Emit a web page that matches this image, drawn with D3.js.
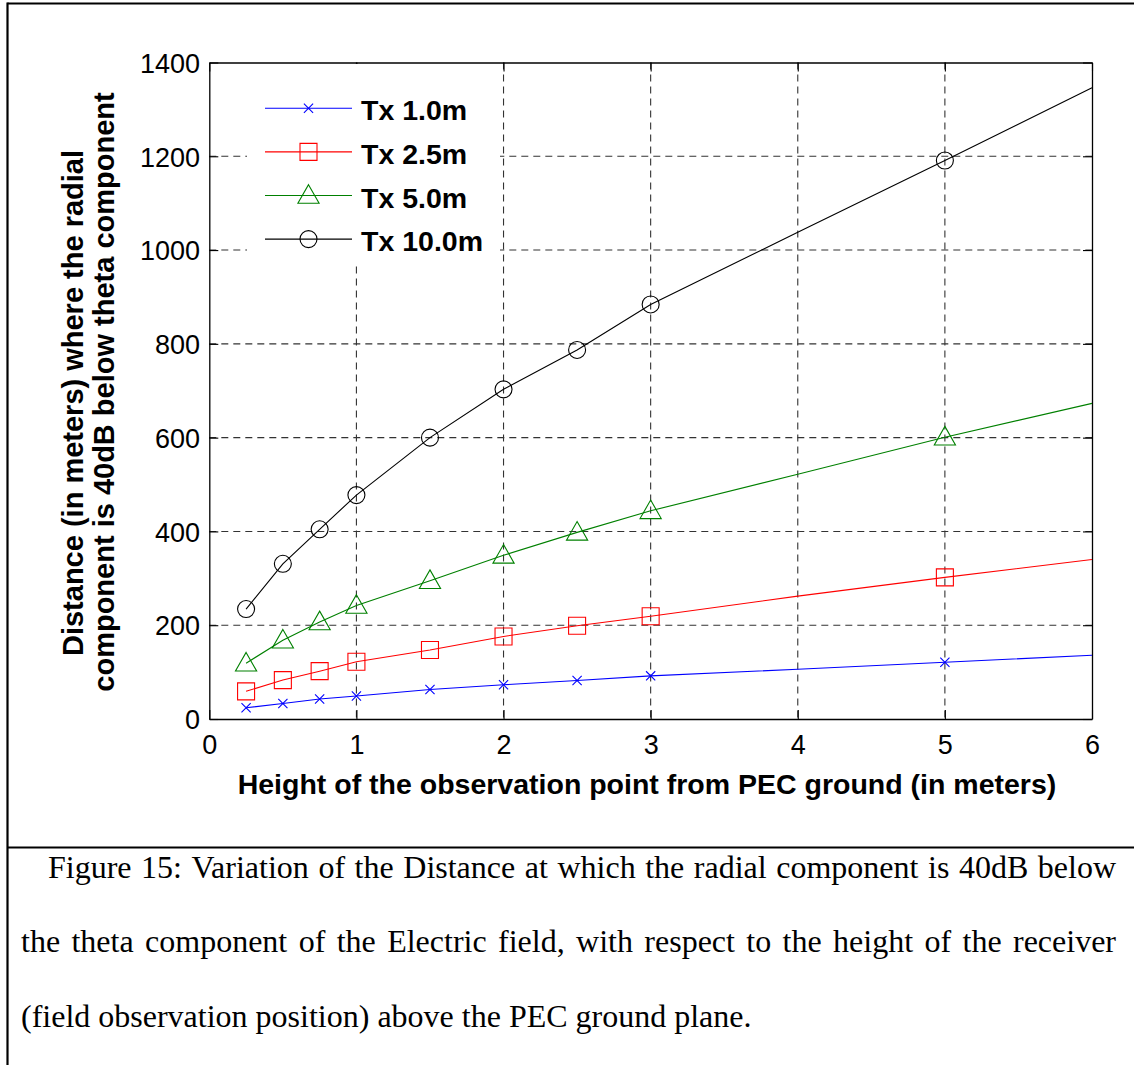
<!DOCTYPE html>
<html>
<head>
<meta charset="utf-8">
<script src="https://cdn.jsdelivr.net/npm/d3@7"></script>
<style>
  body { margin: 0; background: #fff; }
  svg { display: block; }
</style>
</head>
<body>
<svg id="fig" width="1134" height="1065"></svg>
<script>
// Receiver heights (m) at which the lines are drawn, and where markers sit
const heights = [0.25, 0.5, 0.75, 1, 1.5, 2, 2.5, 3, 4, 5, 6];
const markerHeights = [0.25, 0.5, 0.75, 1, 1.5, 2, 2.5, 3, 5];

// Distance (m) at which the radial component is 40 dB below theta, per transmitter height
const tx1  = [24, 33, 42.5, 49, 63, 73, 82, 92, 106, 121, 136];
const tx25 = [59, 83, 102, 122, 147, 176, 199, 219, 262, 302, 340];
const tx5  = [119, 168, 207, 242, 295, 349, 398, 444, 522, 601, 673];
const tx10 = [234.5, 331, 404.5, 477.5, 600, 703, 787, 884, 1038, 1191, 1346];

const seriesNames = ["Tx 1.0m", "Tx 2.5m", "Tx 5.0m", "Tx 10.0m"];
const seriesColors = ["#0000ff", "#ff0000", "#008000", "#000000"];
const seriesMarkers = ["x", "square", "triangle", "circle"];

const xTicks = [0, 1, 2, 3, 4, 5, 6];
const yTicks = [0, 200, 400, 600, 800, 1000, 1200, 1400];

const xLabel = "Height of the observation point from PEC ground (in meters)";
const yLabelLines = ["Distance (in meters) where the radial", "component is 40dB below theta component"];
const captionLines = [
  "Figure 15: Variation of the Distance at which the radial component is 40dB below",
  "the theta component of the Electric field, with respect to the height of the receiver",
  "(field observation position) above the PEC ground plane."
];

// ---------------------------------------------------------------------------
const W = 1134, H = 1065;
const svg = d3.select("#fig");
const sans = "'Liberation Sans', Arial, Helvetica, sans-serif";
const serif = "'Liberation Serif', 'Times New Roman', serif";

const box = { left: 209.3, right: 1092, top: 62.5, bottom: 719 };
const x = d3.scaleLinear().domain([0, 6]).range([box.left, box.right]);
const y = d3.scaleLinear().domain([0, 1400]).range([box.bottom, box.top]);

svg.append("rect").attr("width", W).attr("height", H).attr("fill", "#fff");

// Page frame around the figure and its caption
const frame = svg.append("g").attr("stroke", "#000").attr("stroke-width", 2.2).attr("fill", "none");
frame.append("line").attr("x1", 7.5).attr("x2", W).attr("y1", 3.5).attr("y2", 3.5);
frame.append("line").attr("x1", 7.5).attr("x2", 7.5).attr("y1", 2.4).attr("y2", H);
frame.append("line").attr("x1", 7.5).attr("x2", W).attr("y1", 847.5).attr("y2", 847.5);

// Dashed grid
const grid = svg.append("g").attr("stroke", "#333").attr("stroke-width", 1.1)
  .attr("stroke-dasharray", "7,5").attr("fill", "none");
grid.selectAll("line.gx").data(xTicks.slice(1, -1)).join("line")
  .attr("x1", d => x(d)).attr("x2", d => x(d)).attr("y1", box.top).attr("y2", box.bottom);
grid.selectAll("line.gy").data(yTicks.slice(1, -1)).join("line")
  .attr("y1", d => y(d)).attr("y2", d => y(d)).attr("x1", box.left).attr("x2", box.right);

// Axes with inward ticks on all four sides
const tick = 9;
function styleAxis(g) {
  g.select(".domain").attr("stroke", "#000").attr("stroke-width", 1.3);
  g.selectAll(".tick line").attr("stroke", "#000").attr("stroke-width", 1.1);
  g.selectAll(".tick text").attr("fill", "#000").style("font-family", sans).style("font-size", "27px");
}
svg.append("g").attr("transform", `translate(0,${box.bottom})`)
  .call(d3.axisBottom(x).tickValues(xTicks).tickFormat(d3.format("d"))
    .tickSize(-tick).tickSizeOuter(0).tickPadding(16))
  .call(styleAxis);
svg.append("g").attr("transform", `translate(${box.left},0)`)
  .call(d3.axisLeft(y).tickValues(yTicks).tickFormat(d3.format("d"))
    .tickSize(-tick).tickSizeOuter(0).tickPadding(9.3))
  .call(styleAxis)
  .call(g => g.selectAll(".tick text").attr("dy", "0.36em"));
svg.append("g").attr("transform", `translate(0,${box.top})`)
  .call(d3.axisTop(x).tickValues(xTicks).tickFormat("").tickSize(-tick).tickSizeOuter(0))
  .call(styleAxis);
svg.append("g").attr("transform", `translate(${box.right},0)`)
  .call(d3.axisRight(y).tickValues(yTicks).tickFormat("").tickSize(-tick).tickSizeOuter(0))
  .call(styleAxis);

// Marker shapes
const markerTypes = {
  x: { draw(c) { const r = 4.6; c.moveTo(-r, -r); c.lineTo(r, r); c.moveTo(-r, r); c.lineTo(r, -r); } },
  square: { draw(c) { const r = 8.5; c.moveTo(-r, -r); c.lineTo(r, -r); c.lineTo(r, r); c.lineTo(-r, r); c.closePath(); } },
  triangle: { draw(c) { c.moveTo(0, -10.8); c.lineTo(10.6, 7.8); c.lineTo(-10.6, 7.8); c.closePath(); } },
  circle: { draw(c) { c.moveTo(8.5, 0); c.arc(0, 0, 8.5, 0, 2 * Math.PI); } }
};

const allSeries = [tx1, tx25, tx5, tx10];
const line = d3.line().x(d => x(d[0])).y(d => y(d[1]));

const plot = svg.append("g");
allSeries.forEach((vals, i) => {
  const pts = heights.map((h, k) => [h, vals[k]]);
  plot.append("path").datum(pts).attr("d", line)
    .attr("fill", "none").attr("stroke", seriesColors[i]).attr("stroke-width", 1.1);
  const sym = d3.symbol().type(markerTypes[seriesMarkers[i]]);
  plot.selectAll(null).data(pts.filter(p => markerHeights.includes(p[0]))).join("path")
    .attr("transform", d => `translate(${x(d[0])},${y(d[1])})`)
    .attr("d", sym).attr("fill", "none").attr("stroke", seriesColors[i]).attr("stroke-width", 1.1);
});

// Legend (white background, no border)
const legend = svg.append("g");
legend.append("rect").attr("x", 247).attr("y", 64).attr("width", 253).attr("height", 202).attr("fill", "#fff");
const rowY = [108.3, 151.9, 195.5, 239.1];
seriesNames.forEach((name, i) => {
  const g = legend.append("g").attr("transform", `translate(0,${rowY[i]})`);
  g.append("line").attr("x1", 265).attr("x2", 352).attr("y1", 0).attr("y2", 0)
    .attr("stroke", seriesColors[i]).attr("stroke-width", 1.1);
  g.append("path").attr("transform", "translate(308.5,0)")
    .attr("d", d3.symbol().type(markerTypes[seriesMarkers[i]]))
    .attr("fill", "none").attr("stroke", seriesColors[i]).attr("stroke-width", 1.1);
  g.append("text").attr("x", 361).attr("y", 12).text(name)
    .style("font-family", sans).style("font-size", "28.5px").style("font-weight", "bold");
});

// Axis labels
svg.append("text").attr("x", 647).attr("y", 794).attr("text-anchor", "middle").text(xLabel)
  .style("font-family", sans).style("font-size", "28.5px").style("font-weight", "bold");
const yLabelPos = [[83, 403], [114, 392]];
yLabelLines.forEach((t, i) => {
  svg.append("text").attr("transform", `translate(${yLabelPos[i][0]},${yLabelPos[i][1]}) rotate(-90)`)
    .attr("text-anchor", "middle").text(t)
    .style("font-family", sans).style("font-size", "29px").style("font-weight", "bold");
});

// Caption, first two lines fully justified
const capLayout = [
  { x0: 48, x1: 1116, yb: 878, justify: true },
  { x0: 21, x1: 1116, yb: 952, justify: true },
  { x0: 21, x1: null, yb: 1027, justify: false }
];
captionLines.forEach((t, i) => {
  const L = capLayout[i];
  const txt = svg.append("text").attr("y", L.yb)
    .style("font-family", serif).style("font-size", "32px").attr("fill", "#000");
  if (!L.justify) { txt.attr("x", L.x0).text(t); return; }
  const words = t.split(" ");
  const spans = words.map(w => txt.append("tspan").text(w));
  const widths = spans.map(s => s.node().getComputedTextLength());
  const total = d3.sum(widths);
  const gap = (L.x1 - L.x0 - total) / (words.length - 1);
  let cx = L.x0;
  spans.forEach((s, k) => { s.attr("x", cx); cx += widths[k] + gap; });
});
</script>
</body>
</html>
